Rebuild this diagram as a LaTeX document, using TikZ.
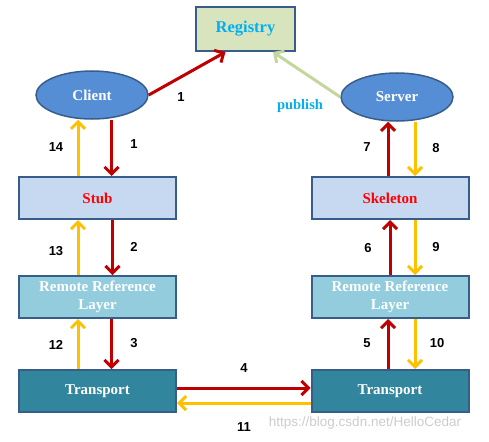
\documentclass[tikz,border=0pt]{standalone}
\usepackage{fontspec}
\setmainfont{Liberation Serif}
\newfontfamily\numfont{Liberation Sans}
\usetikzlibrary{positioning, arrows.meta, shapes.geometric}

\definecolor{edgeblue}{HTML}{385D8A}
\definecolor{regfill}{HTML}{D7E4BD}
\definecolor{regtext}{HTML}{00B0F0}
\definecolor{ellfill}{HTML}{558ED5}
\definecolor{stubfill}{HTML}{C6D9F1}
\definecolor{rrlfill}{HTML}{93CDDD}
\definecolor{transfill}{HTML}{31859C}
\definecolor{callred}{HTML}{C00000}
\definecolor{retyellow}{HTML}{FFC000}
\definecolor{pubgreen}{HTML}{C3D69B}

\begin{document}
\begin{tikzpicture}[
    x=1pt, y=-1pt,
    on grid,
    every node/.style={font=\bfseries},
    layer/.style={draw=edgeblue, line width=2pt, minimum width=157pt, minimum height=42pt, inner sep=0pt, font=\fontsize{15}{16}\selectfont\bfseries},
    host/.style={ellipse, draw=edgeblue, line width=1.5pt, fill=ellfill, minimum width=112pt, minimum height=48pt, inner sep=0pt, text=white, font=\fontsize{15}{16}\selectfont\bfseries},
    call/.style={draw=callred, line width=3pt, -{Straight Barb[length=7pt, width=14pt]}},
    back/.style={draw=retyellow, line width=3pt, -{Straight Barb[length=7pt, width=14pt]}},
    num/.style={font=\numfont\fontsize{13}{14}\selectfont\bfseries}
]
   \useasboundingbox (0,0) rectangle (489,441);

   % Nodes
   \node[draw=edgeblue, line width=2pt, fill=regfill, minimum width=99pt, minimum height=44pt, text=regtext, font=\fontsize{16.5}{18}\selectfont\bfseries] (registry) at (245.5,29) {Registry};
   \node[host] (client) at (92,95) {Client};
   \node[host] (server) at (397,97) {Server};

   \node[layer, fill=stubfill, text=red] (stub) at (97.5,198) {Stub};
   \node[layer, fill=rrlfill, text=white, align=center, font=\fontsize{15}{18}\selectfont\bfseries] (rrlc) [below=99pt of stub] {Remote Reference\\Layer};
   \node[layer, fill=transfill, text=white] (transc) [below=94pt of rrlc] {Transport};

   \node[layer, fill=stubfill, text=red] (skel) [right=292.5pt of stub] {Skeleton};
   \node[layer, fill=rrlfill, text=white, align=center, font=\fontsize{15}{18}\selectfont\bfseries] (rrls) [below=99pt of skel] {Remote Reference\\Layer};
   \node[layer, fill=transfill, text=white] (transs) [below=94pt of rrls] {Transport};

   % Registry lookup and publish
   \draw[call] (client.east) -- ([xshift=-20pt]registry.south);
   \draw[draw=pubgreen, line width=3pt, -{Straight Barb[length=7pt, width=14pt]}] (server.west) -- ([xshift=27.5pt]registry.south);
   \node[num] (n1a) at (181,97) {1};
   \node[text=regtext, font=\fontsize{14.5}{16}\selectfont\bfseries] (pub) at (300,106) {publish};

   % Client side
   \draw[call] ([xshift=14pt]stub.north |- client.south) -- ([xshift=14pt]stub.north);
   \draw[back] ([xshift=-19.5pt]stub.north) -- ([xshift=-19.5pt]stub.north |- client.south);
   \draw[call] ([xshift=15pt]stub.south) -- ([xshift=15pt]rrlc.north);
   \draw[back] ([xshift=-19.5pt]rrlc.north) -- ([xshift=-19.5pt]stub.south);
   \draw[call] ([xshift=14pt]rrlc.south) -- ([xshift=14pt]transc.north);
   \draw[back] ([xshift=-19.5pt]transc.north) -- ([xshift=-19.5pt]rrlc.south);

   \node[num] (n14) at (56,147) {14};
   \node[num] (n1b) at (134,144) {1};
   \node[num] (n13) at (56,251) {13};
   \node[num] (n2) at (134,247) {2};
   \node[num] (n12) at (56,345) {12};
   \node[num] (n3) at (134,343) {3};

   % Server side
   \draw[call] ([xshift=-2pt]skel.north) -- ([xshift=-2pt]skel.north |- server.south);
   \draw[back] ([xshift=25pt]skel.north |- server.south) -- ([xshift=25pt]skel.north);
   \draw[call] (rrls.north) -- (skel.south);
   \draw[back] ([xshift=25pt]skel.south) -- ([xshift=25pt]rrls.north);
   \draw[call] ([xshift=-2pt]transs.north) -- ([xshift=-2pt]rrls.south);
   \draw[back] ([xshift=25pt]rrls.south) -- ([xshift=25pt]transs.north);

   \node[num] (n7) at (367,147) {7};
   \node[num] (n8) at (436,148) {8};
   \node[num] (n6) at (368,248) {6};
   \node[num] (n9) at (436,247) {9};
   \node[num] (n5) at (367,343) {5};
   \node[num] (n10) at (437,343) {10};

   % Transport link
   \draw[call] ([yshift=3pt]transc.east) -- ([yshift=3pt]transs.west);
   \draw[back] ([yshift=-12pt]transs.west) -- ([yshift=-12pt]transc.east);
   \node[num] (n4) at (244,368) {4};
   \node[num] (n11) at (244,427) {11};

   \node[font=\numfont\fontsize{13.5}{14}\selectfont, text=black!20] (mark) at (365,423) {https://blog.csdn.net/HelloCedar};
\end{tikzpicture}
\end{document}
